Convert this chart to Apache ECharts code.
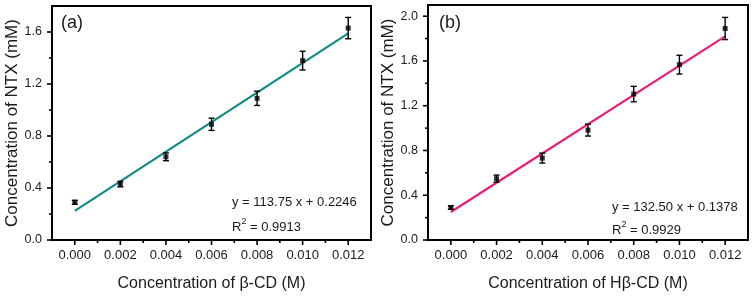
<!DOCTYPE html>
<html>
<head>
<meta charset="utf-8">
<script src="https://cdn.jsdelivr.net/npm/echarts@6/dist/echarts.min.js"></script>
<style>
  html, body { margin: 0; padding: 0; background: #fff; }
  #chart { width: 755px; height: 297px; }
</style>
</head>
<body>
<div id="chart"></div>
<script>
    // concentrations of cyclodextrin (M)
    var conc = [0, 0.002, 0.004, 0.006, 0.008, 0.010, 0.012];

    // panel (a): beta-CD
    var ntxA = [0.29, 0.43, 0.64, 0.89, 1.09, 1.38, 1.63];
    var errA = [0.015, 0.021, 0.03, 0.047, 0.055, 0.072, 0.082];
    var fitAx = [0, 0.012];
    var fitAy = [0.2246, 1.5896];

    // panel (b): H-beta-CD
    var ntxB = [0.29, 0.548, 0.732, 0.982, 1.304, 1.567, 1.89];
    var errB = [0.015, 0.032, 0.044, 0.053, 0.069, 0.084, 0.099];
    var fitBx = [0, 0.012];
    var fitBy = [0.25, 1.82];

    // tick values
    var xMajor = [0, 0.002, 0.004, 0.006, 0.008, 0.010, 0.012];
    var xMinor = [0.001, 0.003, 0.005, 0.007, 0.009, 0.011];
    var yMajorA = [0, 0.4, 0.8, 1.2, 1.6];
    var yMinorA = [0.2, 0.6, 1.0, 1.4];
    var yMajorB = [0, 0.4, 0.8, 1.2, 1.6, 2.0];
    var yMinorB = [0.2, 0.6, 1.0, 1.4, 1.8];

    var X_MIN = -0.001, X_MAX = 0.013;
    var FONT = 'Liberation Sans';
    var TXT = '#1a1a1a';

    function pairs(xs, ys) {
        return xs.map(function (x, i) { return [x, ys[i]]; });
    }
    function errData(xs, ys, es) {
        return xs.map(function (x, i) { return [x, ys[i] - es[i], ys[i] + es[i]]; });
    }

    function renderErr(params, api) {
        var lo = api.coord([api.value(0), api.value(1)]);
        var hi = api.coord([api.value(0), api.value(2)]);
        var w = 3;
        var st = { stroke: '#000', lineWidth: 1.4 };
        return {
            type: 'group',
            children: [
                { type: 'line', shape: { x1: lo[0], y1: lo[1], x2: hi[0], y2: hi[1] }, style: st },
                { type: 'line', shape: { x1: lo[0] - w, y1: lo[1], x2: lo[0] + w, y2: lo[1] }, style: st },
                { type: 'line', shape: { x1: hi[0] - w, y1: hi[1], x2: hi[0] + w, y2: hi[1] }, style: st }
            ]
        };
    }

    // outward tick marks drawn through the axis scales
    function tickSeries(axisIdx, dir, values, len, edge) {
        var data = values.map(function (v) { return dir === 'y' ? [edge, v] : [v, edge]; });
        return {
            type: 'custom', xAxisIndex: axisIdx, yAxisIndex: axisIdx, data: data, clip: false, silent: true, z: 5,
            renderItem: function (params, api) {
                var p = api.coord([api.value(0), api.value(1)]);
                var sh = dir === 'y'
                    ? { x1: p[0] - len, y1: p[1], x2: p[0], y2: p[1] }
                    : { x1: p[0], y1: p[1], x2: p[0], y2: p[1] + len };
                return { type: 'line', shape: sh, style: { stroke: '#000', lineWidth: 1.6 } };
            }
        };
    }

    function xMain(grid, name) {
        return {
            type: 'value', gridIndex: grid, position: 'bottom', min: X_MIN, max: X_MAX,
            name: name, nameLocation: 'middle', nameGap: 36,
            nameTextStyle: { fontFamily: FONT, fontSize: 16, color: TXT },
            axisLine: { onZero: false, lineStyle: { color: '#000', width: 2 } },
            axisTick: { show: false },
            axisLabel: {
                customValues: xMajor, margin: 9, fontFamily: FONT, fontSize: 13, color: TXT,
                formatter: function (v) { return v.toFixed(3); }
            },
            splitLine: { show: false }
        };
    }
    function yMain(grid, max, ticks) {
        return {
            type: 'value', gridIndex: grid, position: 'left', min: 0, max: max,
            name: 'Concentration of NTX (mM)', nameLocation: 'middle', nameGap: 31,
            nameTextStyle: { fontFamily: FONT, fontSize: 17, color: TXT },
            axisLine: { show: true, onZero: false, lineStyle: { color: '#000', width: 2 } },
            axisTick: { show: false },
            axisLabel: {
                customValues: ticks, margin: 10, fontFamily: FONT, fontSize: 12.5, color: TXT,
                formatter: function (v) { return v.toFixed(1); }
            },
            splitLine: { show: false }
        };
    }

    var chart = echarts.init(document.getElementById('chart'), null, { renderer: 'canvas' });

    var option = {
        animation: false,
        backgroundColor: '#fff',
        grid: [
            { left: 52, top: 6, width: 319, height: 237, show: true, borderColor: '#000', borderWidth: 2 },
            { left: 428, top: 5, width: 320, height: 238, show: true, borderColor: '#000', borderWidth: 2 }
        ],
        xAxis: [
            xMain(0, 'Concentration of β-CD (M)'),
            xMain(1, 'Concentration of Hβ-CD (M)')
        ],
        yAxis: [
            yMain(0, 1.8, yMajorA),
            yMain(1, 2.1, yMajorB)
        ],
        series: [
            {
                type: 'line', xAxisIndex: 0, yAxisIndex: 0, data: pairs(fitAx, fitAy),
                symbol: 'none', lineStyle: { color: '#138a84', width: 2.2 }, z: 2
            },
            {
                type: 'custom', xAxisIndex: 0, yAxisIndex: 0, data: errData(conc, ntxA, errA),
                renderItem: renderErr, z: 3
            },
            {
                type: 'scatter', xAxisIndex: 0, yAxisIndex: 0, data: pairs(conc, ntxA),
                symbol: 'rect', symbolSize: 5, itemStyle: { color: '#000' }, z: 4
            },
            {
                type: 'line', xAxisIndex: 1, yAxisIndex: 1, data: pairs(fitBx, fitBy),
                symbol: 'none', lineStyle: { color: '#e81e78', width: 2.2 }, z: 2
            },
            {
                type: 'custom', xAxisIndex: 1, yAxisIndex: 1, data: errData(conc, ntxB, errB),
                renderItem: renderErr, z: 3
            },
            {
                type: 'scatter', xAxisIndex: 1, yAxisIndex: 1, data: pairs(conc, ntxB),
                symbol: 'rect', symbolSize: 5, itemStyle: { color: '#000' }, z: 4
            },
            tickSeries(0, 'x', xMajor, 5, 0),
            tickSeries(0, 'x', xMinor, 3, 0),
            tickSeries(0, 'y', yMajorA, 5, X_MIN),
            tickSeries(0, 'y', yMinorA, 3, X_MIN),
            tickSeries(1, 'x', xMajor, 5, 0),
            tickSeries(1, 'x', xMinor, 3, 0),
            tickSeries(1, 'y', yMajorB, 5, X_MIN),
            tickSeries(1, 'y', yMinorB, 3, X_MIN)
        ],
        graphic: [
            { type: 'text', left: 61, top: 14, style: { text: '(a)', font: '18px "Liberation Sans"', fill: TXT } },
            { type: 'text', left: 439, top: 14, style: { text: '(b)', font: '18px "Liberation Sans"', fill: TXT } },
            { type: 'text', left: 232, top: 196, style: { text: 'y = 113.75 x + 0.2246', font: '13px "Liberation Sans"', fill: TXT } },
            {
                type: 'text', left: 232, top: 217,
                style: {
                    text: '{b|R}{s|2}{b| = 0.9913}', fill: TXT,
                    rich: {
                        b: { fontFamily: FONT, fontSize: 13, color: TXT, verticalAlign: 'bottom' },
                        s: { fontFamily: FONT, fontSize: 9, color: TXT, verticalAlign: 'top', padding: [0, 0, 8, 0] }
                    }
                }
            },
            { type: 'text', left: 612, top: 201, style: { text: 'y = 132.50 x + 0.1378', font: '13px "Liberation Sans"', fill: TXT } },
            {
                type: 'text', left: 612, top: 220,
                style: {
                    text: '{b|R}{s|2}{b| = 0.9929}', fill: TXT,
                    rich: {
                        b: { fontFamily: FONT, fontSize: 13, color: TXT, verticalAlign: 'bottom' },
                        s: { fontFamily: FONT, fontSize: 9, color: TXT, verticalAlign: 'top', padding: [0, 0, 8, 0] }
                    }
                }
            }
        ]
    };

    chart.setOption(option);
</script>
</body>
</html>
